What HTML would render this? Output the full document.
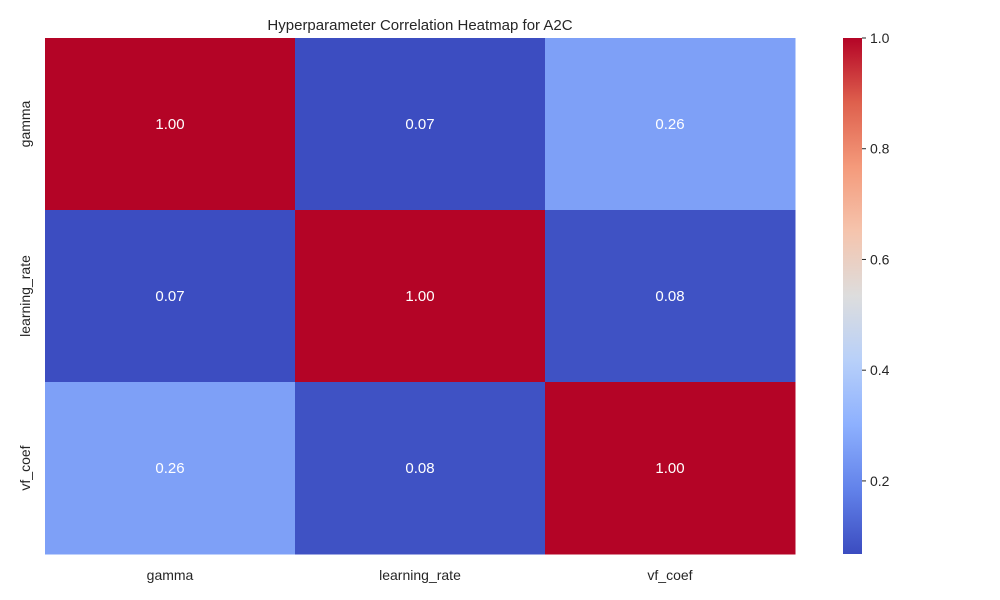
<!DOCTYPE html>
<html><head><meta charset="utf-8">
<style>body{margin:0;background:#fff}svg{display:block;font-family:"Liberation Sans",Arial,sans-serif}</style>
</head><body>
<svg id="chart" width="1000" height="600">
<text x="420" y="30" text-anchor="middle" font-size="15" fill="#262626">Hyperparameter Correlation Heatmap for A2C</text>
<g id="cells"></g>
<g id="cbar"></g>
</svg>
<script>
const labels = ["gamma","learning_rate","vf_coef"];
const row0 = [1.00, 0.07, 0.26];
const row1 = [0.07, 1.00, 0.08];
const row2 = [0.26, 0.08, 1.00];
const matrix = [row0,row1,row2];
const cbarTicks = [0.2,0.4,0.6,0.8,1.0];
const vmin = 0.068, vmax = 1.0;

const NS="http://www.w3.org/2000/svg";
const stops=[[59,76,192],[98,130,234],[141,176,254],[184,208,249],[221,221,221],[245,196,173],[244,154,123],[222,96,77],[180,4,38]];
function cmap(t){t=Math.max(0,Math.min(1,t));const p=t*8,i=Math.min(7,Math.floor(p)),f=p-i;const a=stops[i],b=stops[i+1];
return `rgb(${a.map((v,k)=>Math.round(v+(b[k]-v)*f)).join(',')})`;}
function el(tag,attrs,parent){const e=document.createElementNS(NS,tag);for(const k in attrs)e.setAttribute(k,attrs[k]);parent.appendChild(e);return e;}
const X0=45,X1=795,Y0=38,Y1=554;
const cw=(X1-X0)/labels.length, ch=(Y1-Y0)/labels.length;
const xPos=j=>X0+j*cw, yPos=i=>Y0+i*ch;
const g=document.getElementById('cells');
matrix.forEach((row,i)=>row.forEach((v,j)=>{
  const r=el('rect',{x:xPos(j),y:yPos(i),width:cw+0.5,height:ch+0.5,fill:cmap((v-vmin)/(vmax-vmin))},g);
  
  
  const t=el('text',{x:xPos(j)+cw/2,y:yPos(i)+ch/2+5,'text-anchor':'middle','font-size':15,fill:'#fff'},g);
  t.textContent=v.toFixed(2);
  
  
}));
labels.forEach((l,j)=>{
  const t=el('text',{x:xPos(j)+cw/2,y:580,'text-anchor':'middle','font-size':14,fill:'#262626'},g);
  t.textContent=l;
  
  
  const cy=yPos(j)+ch/2;
  const u=el('text',{x:30,y:cy,'text-anchor':'middle','font-size':14,fill:'#262626',transform:`rotate(-90 30 ${cy})`},g);
  u.textContent=l;
  
  
});
// colorbar
const cb=document.getElementById('cbar');
const CX=843,CW=19;
const defs=el('defs',{},cb);
const lg=el('linearGradient',{id:'cg',x1:0,y1:1,x2:0,y2:0},defs);
for(let k=0;k<=8;k++)el('stop',{offset:k/8,'stop-color':cmap(k/8)},lg);
const cr=el('rect',{x:CX,y:Y0,width:CW,height:Y1-Y0,fill:'url(#cg)'},cb);


const cyPos=v=>Y1-(v-vmin)/(vmax-vmin)*(Y1-Y0);
cbarTicks.forEach(v=>{
  const y=cyPos(v);
  el('line',{x1:CX+CW,x2:CX+CW+4,y1:y,y2:y,stroke:'#262626'},cb);
  const t=el('text',{x:CX+CW+8,y:y+5,'font-size':14,fill:'#262626'},cb);
  t.textContent=v.toFixed(1);
  
  
});
</script>
</body></html>
